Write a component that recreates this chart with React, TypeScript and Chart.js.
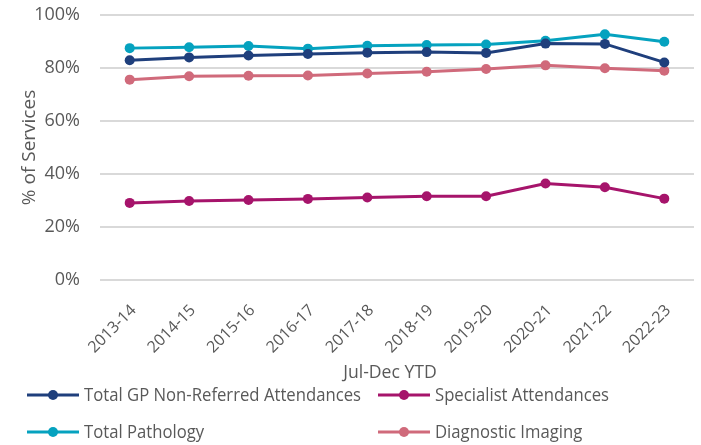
import React, { useEffect, useRef } from "react";
import { Chart, registerables } from "chart.js";

Chart.register(...registerables);

const categories = ["2013-14", "2014-15", "2015-16", "2016-17", "2017-18", "2018-19", "2019-20", "2020-21", "2021-22", "2022-23"];
const gpNonReferred = [82.9, 84.0, 84.7, 85.3, 85.8, 86.0, 85.7, 89.2, 89.1, 82.1];
const specialist = [29.1, 29.8, 30.2, 30.6, 31.1, 31.6, 31.6, 36.4, 35.0, 30.7];
const pathology = [87.5, 87.8, 88.3, 87.3, 88.4, 88.7, 88.9, 90.3, 92.7, 89.9];
const imaging = [75.6, 76.9, 77.1, 77.2, 77.9, 78.6, 79.6, 81.0, 79.9, 79.0];
const yTicks = [0, 20, 40, 60, 80, 100];

const seriesNames = ["Total GP Non-Referred Attendances", "Specialist Attendances", "Total Pathology", "Diagnostic Imaging"];
const seriesColors = ["#1F3F7C", "#A6146B", "#05A2BF", "#D06A7B"];

const LFONT = "'Open Sans', Roboto, sans-serif";
const TICKFONT = "'Open Sans', 'Lato', sans-serif";

function narrowText(ctx: any, text: string, x: number, y: number, sx: number) {
  ctx.save();
  ctx.translate(x, y);
  ctx.scale(sx, 1);
  ctx.fillText(text, 0, 0);
  ctx.restore();
}

const legendPlugin = {
  id: "customLegend",
  afterDraw(chart: any) {
    const ctx = chart.ctx;
    ctx.save();
    ctx.fillStyle = "#595959";
    ctx.font = `18px ${LFONT}`;
    ctx.textBaseline = "middle";
    // horizontal compression factor so the longest label matches the target width
    const sx = 277 / ctx.measureText(seriesNames[0]).width;
    // x axis title
    ctx.textAlign = "center";
    const area = chart.chartArea;
    ctx.font = `19px ${LFONT}`;
    narrowText(ctx, "Jul-Dec YTD", (area.left + area.right) / 2 - 7, 373, sx);
    ctx.font = `18px ${LFONT}`;
    // legend
    const pos = [
      [27, 395],
      [378, 395],
      [27, 432],
      [378, 432],
    ];
    chart.data.datasets.forEach((ds: any, i: number) => {
      const [x, y] = pos[i];
      ctx.strokeStyle = ds.borderColor;
      ctx.lineWidth = 3;
      ctx.beginPath();
      ctx.moveTo(x, y);
      ctx.lineTo(x + 52, y);
      ctx.stroke();
      ctx.fillStyle = ds.borderColor;
      ctx.beginPath();
      ctx.arc(x + 26, y, 5, 0, Math.PI * 2);
      ctx.fill();
      ctx.fillStyle = "#595959";
      ctx.textAlign = "left";
      narrowText(ctx, ds.label, x + 57, y + 1, sx);
    });
    ctx.restore();
  },
};

export default function App() {
  const ref = useRef<HTMLCanvasElement | null>(null);
  useEffect(() => {
    document.body.style.margin = "0";
    const data = [gpNonReferred, specialist, pathology, imaging];
    const chart = new Chart(ref.current!, {
      type: "line",
      data: {
        labels: categories,
        datasets: data.map((d, i) => ({
          label: seriesNames[i],
          data: d,
          borderColor: seriesColors[i],
          backgroundColor: seriesColors[i],
          borderWidth: 3,
          pointRadius: 5,
          pointHoverRadius: 5,
          pointBorderWidth: 0,
          tension: 0,
        })),
      },
      options: {
        animation: false,
        responsive: false,
        maintainAspectRatio: false,
        layout: { padding: { top: 15, right: 7, left: 0, bottom: 0 } },
        plugins: {
          legend: { display: false },
          tooltip: { enabled: false },
        },
        scales: {
          x: {
            offset: true,
            grid: { display: false },
            border: { display: false },
            ticks: {
              color: "#595959",
              font: { family: TICKFONT, size: 16 },
              minRotation: 45,
              maxRotation: 45,
              labelOffset: 4,
              padding: 13,
            },
            afterFit(scale: any) {
              scale.height = 165;
              scale.paddingLeft = 0;
              scale.paddingRight = 0;
              scale.paddingTop = 0;
              scale.paddingBottom = 0;
            },
          },
          y: {
            min: 0,
            max: 100,
            afterBuildTicks(scale: any) {
              scale.ticks = yTicks.map((v) => ({ value: v }));
            },
            grid: { color: "#D9D9D9", lineWidth: 2, drawTicks: false },
            border: { display: false },
            ticks: {
              color: "#595959",
              font: { family: TICKFONT, size: 18 },
              padding: 20,
              callback: (v: any) => `${v}%`,
            },
            title: {
              display: true,
              text: "% of Services",
              color: "#595959",
              font: { family: TICKFONT, size: 19 },
              padding: { top: 18, bottom: 0 },
            },
            afterFit(scale: any) {
              scale.width = 100;
              scale.paddingTop = 0;
              scale.paddingBottom = 0;
            },
          },
        },
      },
      plugins: [legendPlugin],
    });
    return () => chart.destroy();
  }, []);
  return (
    <div style={{ position: "fixed", left: 0, top: 0, width: 701, height: 445 }}>
      <canvas ref={ref} width={701} height={445} style={{ width: 701, height: 445 }} />
    </div>
  );
}
